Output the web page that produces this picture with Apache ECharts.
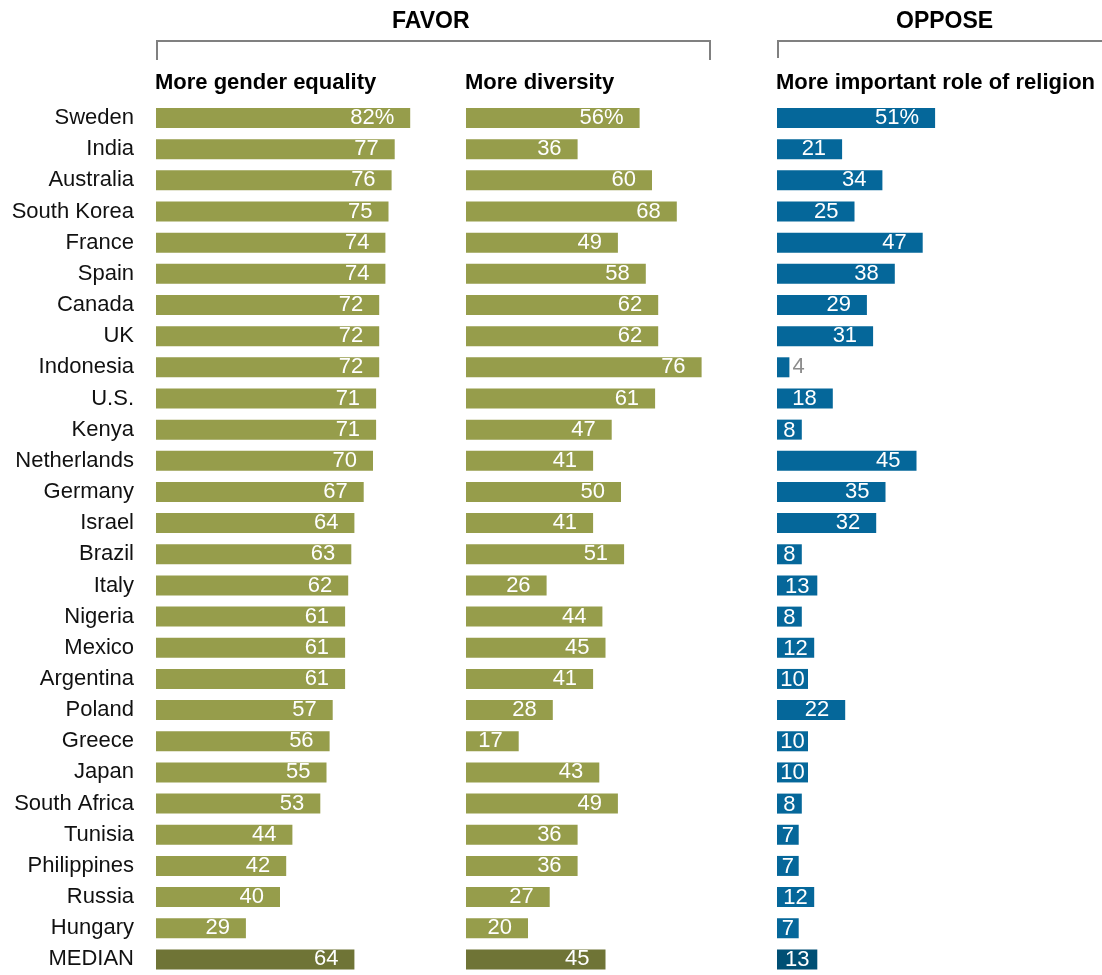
<!DOCTYPE html>
<html>
<head>
<meta charset="utf-8">
<script src="https://cdn.jsdelivr.net/npm/echarts@6/dist/echarts.min.js"></script>
<style>
  html, body { margin: 0; padding: 0; background: #fff; }
  #main { width: 1102px; height: 975px; }
</style>
</head>
<body>
<div id="main"></div>
<script>
var countries = ['Sweden', 'India', 'Australia', 'South Korea', 'France', 'Spain', 'Canada', 'UK',
  'Indonesia', 'U.S.', 'Kenya', 'Netherlands', 'Germany', 'Israel', 'Brazil', 'Italy', 'Nigeria',
  'Mexico', 'Argentina', 'Poland', 'Greece', 'Japan', 'South Africa', 'Tunisia', 'Philippines',
  'Russia', 'Hungary', 'MEDIAN'];
var genderEquality = [82, 77, 76, 75, 74, 74, 72, 72, 72, 71, 71, 70, 67, 64, 63, 62, 61, 61, 61, 57, 56, 55, 53, 44, 42, 40, 29, 64];
var moreDiversity = [56, 36, 60, 68, 49, 58, 62, 62, 76, 61, 47, 41, 50, 41, 51, 26, 44, 45, 41, 28, 17, 43, 49, 36, 36, 27, 20, 45];
var religionRole = [51, 21, 34, 25, 47, 38, 29, 31, 4, 18, 8, 45, 35, 32, 8, 13, 8, 12, 10, 22, 10, 10, 8, 7, 7, 12, 7, 13];
var panelTitles = ['More gender equality', 'More diversity', 'More important role of religion'];

var chart = echarts.init(document.getElementById('main'));

var FONT = '"Liberation Sans", Arial, sans-serif';
var OLIVE = '#969d4b', OLIVE_DARK = '#6f7436';
var BLUE = '#05679a', BLUE_DARK = '#004f74';
var lastIdx = countries.length - 1;

var gridTop = 102.4, gridHeight = 875.3, pxPerUnit = 3.1;
var gridLefts = [156, 466, 777];

function makeData(values, color, darkColor, isReligion) {
  return values.map(function (v, i) {
    var item = { value: v, itemStyle: { color: i === lastIdx ? darkColor : color } };
    if (isReligion && v < 5) {
      item.label = { position: 'right', distance: 3, color: '#8c8c8c' };
    }
    return item;
  });
}

function labelFmt(p) {
  return p.dataIndex === 0 ? p.value + '%' : String(p.value);
}

var grids = [], xAxes = [], yAxes = [], series = [];
var allData = [
  makeData(genderEquality, OLIVE, OLIVE_DARK, false),
  makeData(moreDiversity, OLIVE, OLIVE_DARK, false),
  makeData(religionRole, BLUE, BLUE_DARK, true)
];

for (var g = 0; g < 3; g++) {
  grids.push({ left: gridLefts[g], top: gridTop, width: 100 * pxPerUnit, height: gridHeight });
  xAxes.push({ type: 'value', gridIndex: g, min: 0, max: 100, show: false });
  yAxes.push({
    type: 'category', gridIndex: g, inverse: true, data: countries,
    axisLine: { show: false }, axisTick: { show: false }, splitLine: { show: false },
    axisLabel: {
      show: g === 0, margin: 22, fontSize: 22, color: '#111', fontFamily: FONT
    }
  });
  series.push({
    type: 'bar', xAxisIndex: g, yAxisIndex: g, barWidth: 20,
    data: allData[g],
    label: {
      show: true, position: 'insideRight', distance: 16, color: '#fff',
      fontSize: 22, fontFamily: FONT, formatter: labelFmt, offset: [0, 1]
    },
    // small bars: centre the number in the bar instead of pushing it out the left side
    labelLayout: function (p) {
      if (p.labelRect.x < p.rect.x + 6) {
        return {
          x: p.rect.x + p.rect.width / 2, y: p.rect.y + p.rect.height / 2 + 1,
          align: 'center', verticalAlign: 'middle'
        };
      }
    },
    silent: true, animation: false
  });
}

var headerStyle = { fontSize: 22, fontWeight: 'bold', fill: '#000', fontFamily: FONT };
var graphics = [
  { type: 'text', left: 433 - 41, top: 10, style: { text: 'FAVOR', fontSize: 23, fontWeight: 'bold', fill: '#000', fontFamily: FONT } },
  { type: 'text', left: 944 - 48, top: 10, style: { text: 'OPPOSE', fontSize: 23, fontWeight: 'bold', fill: '#000', fontFamily: FONT } },
  { type: 'polyline', shape: { points: [[157, 60], [157, 41], [710, 41], [710, 60]] },
    style: { stroke: '#808080', lineWidth: 2, fill: null } },
  { type: 'polyline', shape: { points: [[778, 58], [778, 41], [1110, 41]] },
    style: { stroke: '#808080', lineWidth: 2, fill: null } }
];
for (var t = 0; t < 3; t++) {
  graphics.push({ type: 'text', left: gridLefts[t] - 1, top: 72, style: Object.assign({ text: panelTitles[t] }, headerStyle) });
}

chart.setOption({
  animation: false,
  grid: grids,
  xAxis: xAxes,
  yAxis: yAxes,
  series: series,
  graphic: graphics
});
</script>
</body>
</html>
